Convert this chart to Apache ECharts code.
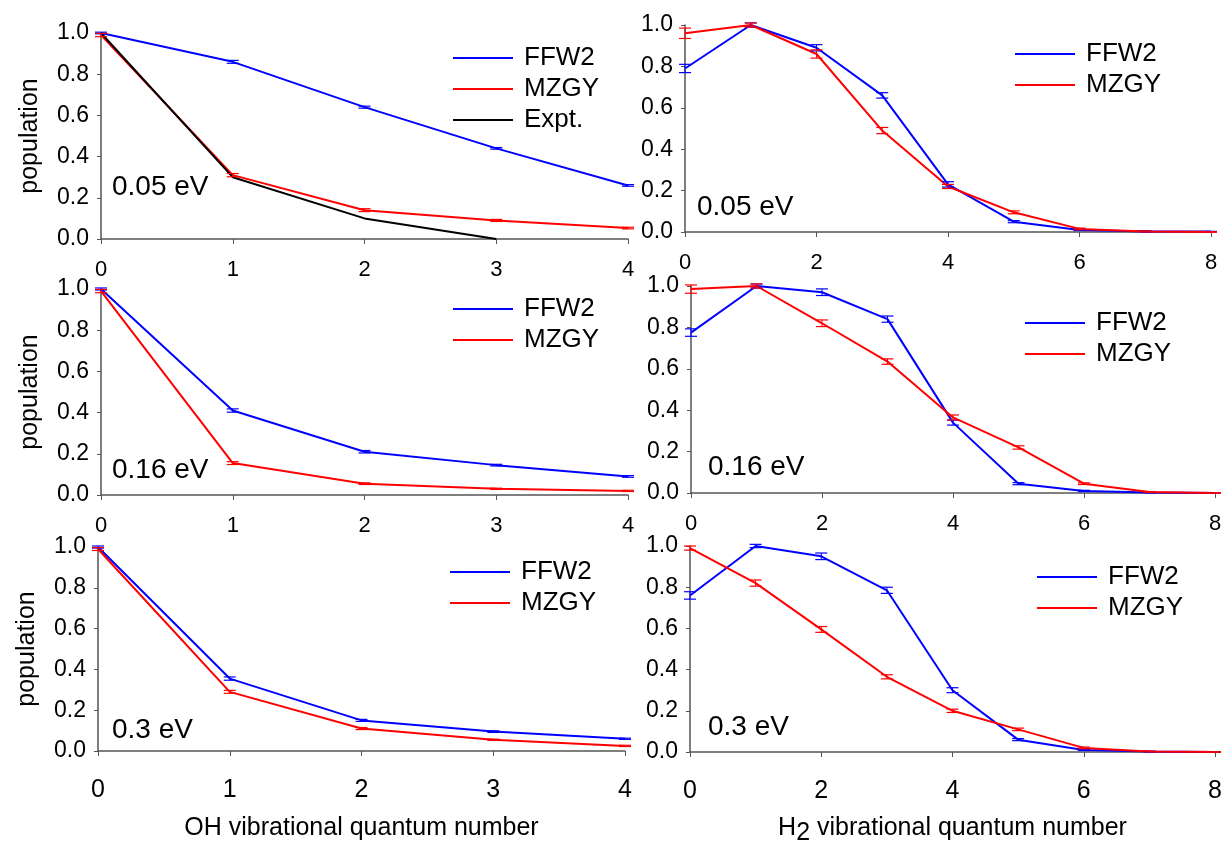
<!DOCTYPE html>
<html><head><meta charset="utf-8">
<script src="https://cdn.jsdelivr.net/npm/echarts@6/dist/echarts.min.js"></script>
<style>html,body{margin:0;padding:0;background:#fff}#c{width:1228px;height:844px}</style>
</head><body><div id="c"></div>
<script>
// ---------- data ----------
const ohX = [0, 1, 2, 3, 4];
const h2X = [0, 1, 2, 3, 4, 5, 6, 7, 8];
const expX = [0, 1, 2, 3];

// 0.05 eV
const oh005_FFW2 = [1.0, 0.86, 0.64, 0.44, 0.26];
const oh005_FFW2_err = [0.004, 0.007, 0.005, 0.004, 0.004];
const oh005_MZGY = [0.99, 0.31, 0.14, 0.09, 0.053];
const oh005_MZGY_err = [0.008, 0.008, 0.007, 0.005, 0.004];
const oh005_Expt = [1.0, 0.30, 0.10, 0.0];
const h2005_FFW2 = [0.79, 1.0, 0.89, 0.66, 0.23, 0.05, 0.01, 0.003, 0.002];
const h2005_FFW2_err = [0.02, 0.01, 0.015, 0.013, 0.013, 0.005, 0.003, 0.002, 0.001];
const h2005_MZGY = [0.96, 1.0, 0.86, 0.49, 0.22, 0.095, 0.015, 0.003, 0.0];
const h2005_MZGY_err = [0.025, 0.01, 0.02, 0.015, 0.01, 0.007, 0.004, 0.002, 0.001];

// 0.16 eV
const oh016_FFW2 = [1.0, 0.41, 0.21, 0.145, 0.09];
const oh016_FFW2_err = [0.005, 0.008, 0.006, 0.004, 0.004];
const oh016_MZGY = [0.99, 0.155, 0.055, 0.03, 0.02];
const oh016_MZGY_err = [0.008, 0.007, 0.004, 0.003, 0.003];
const h2016_FFW2 = [0.775, 1.0, 0.97, 0.84, 0.34, 0.045, 0.01, 0.003, 0.0];
const h2016_FFW2_err = [0.018, 0.01, 0.016, 0.015, 0.012, 0.005, 0.003, 0.002, 0.001];
const h2016_MZGY = [0.985, 1.0, 0.82, 0.635, 0.365, 0.22, 0.045, 0.005, 0.0];
const h2016_MZGY_err = [0.02, 0.01, 0.016, 0.013, 0.012, 0.008, 0.004, 0.002, 0.001];

// 0.3 eV
const oh03_FFW2 = [1.0, 0.355, 0.15, 0.095, 0.06];
const oh03_FFW2_err = [0.005, 0.008, 0.005, 0.004, 0.003];
const oh03_MZGY = [0.99, 0.29, 0.11, 0.055, 0.025];
const oh03_MZGY_err = [0.007, 0.007, 0.005, 0.003, 0.003];
const h203_FFW2 = [0.76, 1.0, 0.95, 0.785, 0.30, 0.06, 0.01, 0.002, 0.0];
const h203_FFW2_err = [0.018, 0.008, 0.016, 0.015, 0.012, 0.005, 0.003, 0.001, 0.001];
const h203_MZGY = [0.99, 0.82, 0.595, 0.365, 0.20, 0.11, 0.02, 0.003, 0.0];
const h203_MZGY_err = [0.01, 0.015, 0.014, 0.01, 0.008, 0.006, 0.004, 0.002, 0.001];

const yTicks = [0, 0.2, 0.4, 0.6, 0.8, 1.0];
const energyLabels = ['0.05 eV', '0.16 eV', '0.3 eV'];
const seriesNames = ['FFW2', 'MZGY', 'Expt.'];

// ---------- styling ----------
const FONT = 'Liberation Sans, Arial, sans-serif';
const BLUE = '#0000ff', RED = '#ff0000', BLACK = '#000000';
const AXIS_COLOR = '#555555';

const grids = [
  {left: 101, right: 600, top: 33, bottom: 605},
  {left: 685, right: 17, top: 25, bottom: 612},
  {left: 101, right: 600, top: 289, bottom: 349},
  {left: 691, right: 13, top: 286, bottom: 351},
  {left: 98, right: 603, top: 547, bottom: 93},
  {left: 690, right: 13, top: 546, bottom: 92}
];

function zip(xs, ys) { return xs.map((x, i) => [x, ys[i]]); }
function zip3(xs, ys, es) { return xs.map((x, i) => [x, ys[i], es[i]]); }

const xAxes = grids.map((g, i) => {
  const isOH = i % 2 === 0;
  const bottomRow = i >= 4;
  return {
    gridIndex: i, type: 'value', min: 0, max: isOH ? 4 : 8, interval: isOH ? 1 : 2,
    splitLine: {show: false},
    axisLine: {show: true, onZero: false, lineStyle: {color: AXIS_COLOR, width: 1.5}},
    axisTick: {show: true, inside: false, length: 5, lineStyle: {color: AXIS_COLOR}},
    axisLabel: {color: '#000', fontSize: bottomRow ? 25 : 22, fontFamily: FONT, margin: bottomRow ? 27 : 20},
    name: bottomRow ? (isOH ? 'OH vibrational quantum number' : '{h|H}{s|2}{h| vibrational quantum number}') : '',
    nameLocation: 'middle', nameGap: isOH ? 65 : 59,
    nameTextStyle: {color: '#000', fontSize: 25, fontFamily: FONT,
      rich: {h: {fontSize: 25, fontFamily: FONT, color: '#000'},
             s: {fontSize: 25, fontFamily: FONT, color: '#000', padding: [10, 0, 0, 0]}}}
  };
});

const yAxes = grids.map((g, i) => {
  const isOH = i % 2 === 0;
  return {
    gridIndex: i, type: 'value', min: 0, max: 1.0, interval: 0.2,
    splitLine: {show: false},
    axisLine: {show: true, lineStyle: {color: AXIS_COLOR, width: 1.5}},
    axisTick: {show: true, inside: false, length: 4, lineStyle: {color: AXIS_COLOR}},
    axisLabel: {color: '#000', fontSize: 23, fontFamily: FONT, margin: 12,
      formatter: v => yTicks.some(t => Math.abs(t - v) < 1e-9) ? v.toFixed(1) : ''},
    name: isOH ? 'population' : '',
    nameLocation: 'middle', nameGap: 58,
    nameTextStyle: {color: '#000', fontSize: 25, fontFamily: FONT}
  };
});

function lineSeries(name, gi, xs, ys, color) {
  return {
    name: name, type: 'line', xAxisIndex: gi, yAxisIndex: gi,
    data: zip(xs, ys), showSymbol: false, symbol: 'none',
    lineStyle: {color: color, width: 2}, itemStyle: {color: color},
    animation: false, z: 3
  };
}
function errSeries(name, gi, xs, ys, es, color) {
  return {
    name: name, type: 'custom', xAxisIndex: gi, yAxisIndex: gi,
    data: zip3(xs, ys, es), itemStyle: {color: color}, animation: false, z: 4,
    renderItem: function (params, api) {
      const x = api.value(0), y = api.value(1), e = api.value(2);
      const top = api.coord([x, y + e]);
      const bot = api.coord([x, y - e]);
      const c = api.visual('color');
      const w = 6;
      return {type: 'group', children: [
        {type: 'line', shape: {x1: top[0], y1: top[1], x2: bot[0], y2: bot[1]}, style: {stroke: c, lineWidth: 1}},
        {type: 'line', shape: {x1: top[0] - w, y1: top[1], x2: top[0] + w, y2: top[1]}, style: {stroke: c, lineWidth: 1.2}},
        {type: 'line', shape: {x1: bot[0] - w, y1: bot[1], x2: bot[0] + w, y2: bot[1]}, style: {stroke: c, lineWidth: 1.2}}
      ]};
    }
  };
}

const panels = [
  {gi: 0, xs: ohX, f: oh005_FFW2, fe: oh005_FFW2_err, m: oh005_MZGY, me: oh005_MZGY_err, expt: oh005_Expt},
  {gi: 1, xs: h2X, f: h2005_FFW2, fe: h2005_FFW2_err, m: h2005_MZGY, me: h2005_MZGY_err},
  {gi: 2, xs: ohX, f: oh016_FFW2, fe: oh016_FFW2_err, m: oh016_MZGY, me: oh016_MZGY_err},
  {gi: 3, xs: h2X, f: h2016_FFW2, fe: h2016_FFW2_err, m: h2016_MZGY, me: h2016_MZGY_err},
  {gi: 4, xs: ohX, f: oh03_FFW2, fe: oh03_FFW2_err, m: oh03_MZGY, me: oh03_MZGY_err},
  {gi: 5, xs: h2X, f: h203_FFW2, fe: h203_FFW2_err, m: h203_MZGY, me: h203_MZGY_err}
];

const series = [];
panels.forEach(p => {
  series.push(lineSeries(seriesNames[0], p.gi, p.xs, p.f, BLUE));
  series.push(errSeries(seriesNames[0], p.gi, p.xs, p.f, p.fe, BLUE));
  series.push(lineSeries(seriesNames[1], p.gi, p.xs, p.m, RED));
  series.push(errSeries(seriesNames[1], p.gi, p.xs, p.m, p.me, RED));
  if (p.expt) series.push(lineSeries(seriesNames[2], p.gi, expX, p.expt, BLACK));
});

const legendPos = [
  {left: 448, top: 40, names: seriesNames},
  {left: 1010, top: 36, names: seriesNames.slice(0, 2)},
  {left: 448, top: 291, names: seriesNames.slice(0, 2)},
  {left: 1020, top: 305, names: seriesNames.slice(0, 2)},
  {left: 445, top: 554, names: seriesNames.slice(0, 2)},
  {left: 1032, top: 559, names: seriesNames.slice(0, 2)}
];
const colorOf = {'FFW2': BLUE, 'MZGY': RED, 'Expt.': BLACK};
const legends = legendPos.map(l => ({
  left: l.left, top: l.top, orient: 'vertical', itemGap: 5,
  itemWidth: 60, itemHeight: 28, selectedMode: false,
  textStyle: {fontSize: 26, fontFamily: FONT, color: '#000', padding: [0, 0, 0, 6]},
  data: l.names.map(n => ({name: n,
    icon: 'path://M0,13 L60,13 L60,15 L0,15 Z',
    itemStyle: {color: colorOf[n]}}))
}));

const annPos = [
  {left: 112, top: 173, t: energyLabels[0]},
  {left: 697, top: 193, t: energyLabels[0]},
  {left: 112, top: 456, t: energyLabels[1]},
  {left: 708, top: 453, t: energyLabels[1]},
  {left: 112, top: 716, t: energyLabels[2]},
  {left: 708, top: 713, t: energyLabels[2]}
];
const graphics = annPos.map(a => ({
  type: 'text', left: a.left, top: a.top,
  style: {text: a.t, fontSize: 28, fontFamily: FONT, fill: '#000'}
}));

const chart = echarts.init(document.getElementById('c'), null, {renderer: 'canvas'});
chart.setOption({
  animation: false,
  backgroundColor: '#ffffff',
  grid: grids.map(g => Object.assign({containLabel: false, outerBoundsMode: 'none'}, g)),
  xAxis: xAxes,
  yAxis: yAxes,
  legend: legends,
  graphic: graphics,
  series: series
});
</script></body></html>
